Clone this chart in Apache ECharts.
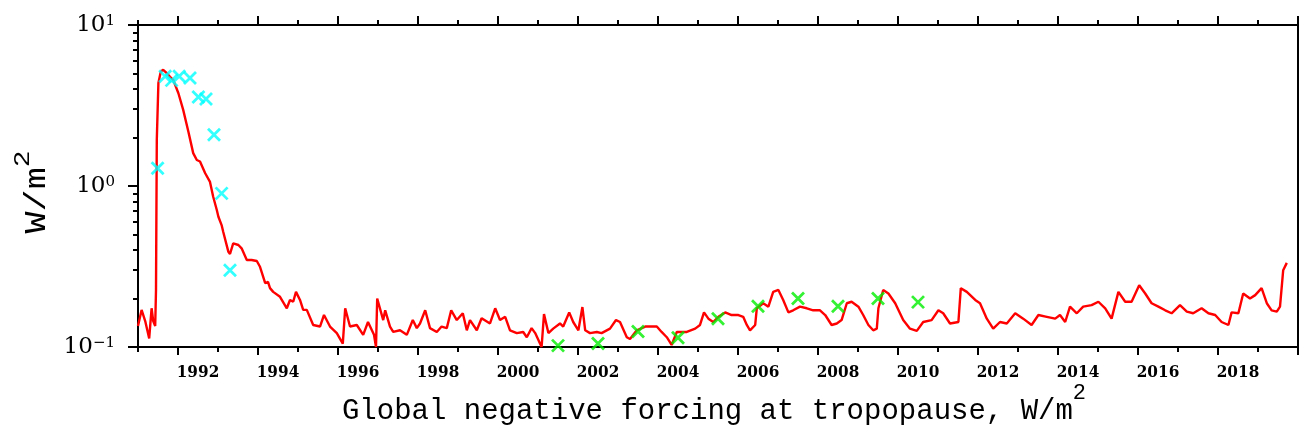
<!DOCTYPE html>
<html><head><meta charset="utf-8">
<script src="https://cdn.jsdelivr.net/npm/echarts@6/dist/echarts.min.js"></script>
<style>html,body{margin:0;padding:0;background:#fff}#c{width:1301px;height:435px}</style>
</head><body><div id="c"></div>
<script>
// ---- data ----
const modelYears = [
1991.00,1991.09,1991.18,1991.28,1991.34,1991.38,1991.43,1991.45,1991.47,1991.51,
1991.57,1991.63,1991.72,1991.80,1991.88,1992.01,1992.13,1992.26,1992.38,1992.47,
1992.55,1992.68,1992.80,1992.88,1992.97,1993.01,1993.09,1993.13,1993.26,1993.30,
1993.38,1993.43,1993.51,1993.59,1993.72,1993.84,1993.97,1994.05,1994.18,1994.25,
1994.30,1994.38,1994.55,1994.72,1994.80,1994.88,1994.95,1995.05,1995.13,1995.22,
1995.38,1995.55,1995.65,1995.80,1995.97,1996.12,1996.18,1996.30,1996.47,1996.63,
1996.75,1996.90,1996.95,1996.98,1997.13,1997.18,1997.30,1997.38,1997.55,1997.72,
1997.87,1997.97,1998.05,1998.18,1998.30,1998.47,1998.59,1998.72,1998.83,1998.97,
1999.12,1999.22,1999.30,1999.47,1999.59,1999.80,1999.93,2000.05,2000.18,2000.30,
2000.47,2000.63,2000.72,2000.84,2000.93,2001.09,2001.15,2001.26,2001.38,2001.55,
2001.63,2001.78,2001.88,2002.01,2002.11,2002.18,2002.30,2002.47,2002.59,2002.80,
2002.95,2003.05,2003.22,2003.30,2003.47,2003.68,2003.97,2004.09,2004.22,2004.34,
2004.47,2004.72,2004.93,2005.05,2005.15,2005.26,2005.38,2005.51,2005.68,2005.84,
2006.01,2006.13,2006.22,2006.30,2006.43,2006.47,2006.63,2006.76,2006.88,2007.01,
2007.13,2007.26,2007.38,2007.55,2007.72,2007.88,2008.05,2008.18,2008.34,2008.47,
2008.59,2008.72,2008.84,2009.01,2009.13,2009.26,2009.38,2009.47,2009.51,2009.63,
2009.76,2009.93,2010.13,2010.30,2010.47,2010.63,2010.84,2011.01,2011.13,2011.30,
2011.51,2011.57,2011.72,2011.93,2012.05,2012.22,2012.38,2012.55,2012.72,2012.93,
2013.13,2013.34,2013.51,2013.72,2013.93,2014.05,2014.18,2014.30,2014.47,2014.63,
2014.84,2015.01,2015.18,2015.34,2015.51,2015.68,2015.84,2016.03,2016.18,2016.34,
2016.51,2016.68,2016.84,2017.05,2017.22,2017.38,2017.59,2017.76,2017.93,2018.09,
2018.26,2018.34,2018.51,2018.63,2018.80,2018.93,2019.09,2019.22,2019.34,2019.47,
2019.55,2019.63,2019.72];
const modelForcing = [
0.135,0.170,0.145,0.113,0.174,0.145,0.135,0.225,1.93,4.37,
5.14,5.27,5.02,4.76,4.56,3.77,2.97,2.17,1.60,1.45,
1.42,1.20,1.06,0.858,0.709,0.644,0.572,0.520,0.390,0.378,
0.440,0.450,0.430,0.410,0.347,0.347,0.342,0.315,0.249,0.254,
0.232,0.220,0.205,0.174,0.196,0.191,0.220,0.196,0.170,0.170,
0.137,0.134,0.158,0.134,0.122,0.105,0.174,0.134,0.137,0.119,
0.143,0.119,0.100,0.200,0.147,0.169,0.134,0.124,0.127,0.119,
0.147,0.131,0.140,0.169,0.131,0.124,0.134,0.131,0.169,0.147,
0.162,0.127,0.147,0.127,0.151,0.140,0.174,0.147,0.154,0.127,
0.122,0.124,0.115,0.131,0.122,0.100,0.160,0.122,0.130,0.140,
0.134,0.164,0.143,0.127,0.177,0.127,0.122,0.124,0.122,0.130,
0.147,0.143,0.115,0.112,0.127,0.134,0.134,0.124,0.115,0.103,
0.124,0.124,0.130,0.137,0.164,0.150,0.143,0.154,0.164,0.158,
0.158,0.154,0.137,0.127,0.137,0.174,0.187,0.178,0.220,0.226,
0.196,0.164,0.169,0.178,0.174,0.169,0.169,0.158,0.137,0.140,
0.147,0.187,0.191,0.178,0.158,0.137,0.127,0.130,0.174,0.226,
0.215,0.187,0.147,0.130,0.126,0.143,0.147,0.169,0.162,0.140,
0.143,0.232,0.220,0.196,0.187,0.150,0.130,0.143,0.140,0.162,
0.150,0.137,0.158,0.154,0.150,0.158,0.143,0.178,0.162,0.178,
0.182,0.191,0.174,0.150,0.220,0.191,0.191,0.242,0.215,0.187,
0.178,0.169,0.162,0.182,0.166,0.162,0.174,0.162,0.158,0.143,
0.137,0.164,0.162,0.215,0.200,0.210,0.232,0.187,0.169,0.166,
0.178,0.300,0.333];
const earlyObsYears = [1991.49,1991.68,1991.84,1992.03,1992.30,1992.51,1992.70,1992.90,1993.09,1993.30];
const earlyObsForcing = [1.29,4.80,4.53,4.80,4.69,3.57,3.47,2.08,0.90,0.30];
const lateObsYears = [2001.5,2002.5,2003.5,2004.5,2005.5,2006.5,2007.5,2008.5,2009.5,2010.5];
const lateObsForcing = [0.102,0.105,0.125,0.114,0.150,0.179,0.200,0.179,0.200,0.190];
const majorYearTicks = [1992,1994,1996,1998,2000,2002,2004,2006,2008,2010,2012,2014,2016,2018,2020];
const minorYearTicks = [1991,1993,1995,1997,1999,2001,2003,2005,2007,2009,2011,2013,2015,2017,2019];
const yearLabels = [1992,1994,1996,1998,2000,2002,2004,2006,2008,2010,2012,2014,2016,2018];
const yMinorTicks = [0.2,0.3,0.4,0.5,0.6,0.7,0.8,0.9,2,3,4,5,6,7,8,9];
const xTitle = 'Global negative forcing at tropopause, W/m';
const yTitle = 'W/m';
const unitPower = '2';

// ---- chart ----
const chart = echarts.init(document.getElementById('c'), null, {renderer: 'canvas'});
const X0 = 1991, X1 = 2020;
const tickStyle = {color: '#000', width: 2};
const noLine = {show: false, onZero: false};
function xAxisCfg(pos, ticks, len, labels) {
  return {
    type: 'value', min: X0, max: X1, position: pos,
    axisLine: noLine, splitLine: {show: false},
    axisTick: {show: true, customValues: ticks, length: len, lineStyle: tickStyle},
    axisLabel: labels ? {
      show: true, customValues: yearLabels.map(v => v + 0.5),
      formatter: v => String(Math.floor(v)), margin: 17,
      fontFamily: '"DejaVu Serif Condensed","DejaVu Serif",serif', fontWeight: 'bold', fontSize: 17, color: '#000'
    } : {show: false}
  };
}
const supStyle = {fontFamily: '"DejaVu Serif",serif', fontSize: 15, lineHeight: 15, color: '#000', verticalAlign: 'top'};
const baseStyle = {fontFamily: '"DejaVu Serif",serif', fontSize: 23, lineHeight: 23, color: '#000', verticalAlign: 'bottom', padding: [3, 0, 0, 0]};
const crossSymbol = 'path://M0,0L10,10M10,0L0,10';
const titleFont = '"Liberation Mono",monospace';

chart.setOption({
  animation: false,
  backgroundColor: '#fff',
  grid: {left: 138, right: 3, top: 25, bottom: 88, show: true, borderColor: '#000', borderWidth: 2, backgroundColor: 'transparent'},
  xAxis: [
    xAxisCfg('bottom', majorYearTicks, 8, true),
    xAxisCfg('bottom', minorYearTicks, 5, false),
    xAxisCfg('top', majorYearTicks, 9, false),
    xAxisCfg('top', minorYearTicks, 5, false)
  ],
  yAxis: [
    {type: 'log', logBase: 10, min: 0.1, max: 10, position: 'left',
     axisLine: noLine, splitLine: {show: false},
     axisTick: {show: true, length: 10, lineStyle: tickStyle},
     axisLabel: {margin: 23, formatter: v => {
        const e = Math.round(Math.log10(v));
        return '{b|10}{s|' + (e < 0 ? '\u2212' + (-e) : String(e)) + '}';
     }, rich: {b: baseStyle, s: supStyle}}},
    {type: 'value', min: -1, max: 1, position: 'left',
     axisLine: noLine, splitLine: {show: false},
     axisTick: {show: true, customValues: yMinorTicks.map(v => Math.log10(v)), length: 5, lineStyle: tickStyle},
     axisLabel: {show: false}}
  ],
  series: [
    {type: 'line', xAxisIndex: 0, yAxisIndex: 0, showSymbol: false, symbol: 'none',
     lineStyle: {color: '#ff0000', width: 2.4}, z: 2,
     data: modelYears.map((y, i) => [y, modelForcing[i]])},
    {type: 'scatter', xAxisIndex: 0, yAxisIndex: 0, symbol: crossSymbol, symbolSize: 12,
     itemStyle: {color: '#00ffff', borderColor: '#00ffff', borderWidth: 2.8}, z: 3,
     data: earlyObsYears.map((y, i) => [y, earlyObsForcing[i]])},
    {type: 'scatter', xAxisIndex: 0, yAxisIndex: 0, symbol: crossSymbol, symbolSize: 12,
     itemStyle: {color: '#00ee00', borderColor: '#00ee00', borderWidth: 2.8}, z: 3,
     data: lateObsYears.map((y, i) => [y, lateObsForcing[i]])}
  ],
  graphic: [
    {type: 'text', x: 714, y: 404, silent: true,
     style: {text: '{a|' + xTitle + '}{s|' + unitPower + '}', align: 'center', verticalAlign: 'middle',
       textAlign: 'center', textVerticalAlign: 'middle',
       rich: {a: {fontFamily: titleFont, fontSize: 29, lineHeight: 43, fill: '#000', verticalAlign: 'bottom'},
              s: {fontFamily: titleFont, fontSize: 22, lineHeight: 22, fill: '#000', verticalAlign: 'top'}}}},
    {type: 'text', x: 32, y: 192, rotation: Math.PI / 2, scaleX: 1.27, silent: true,
     style: {text: '{a|' + yTitle + '}{s|' + unitPower + '}', align: 'center', verticalAlign: 'middle',
       textAlign: 'center', textVerticalAlign: 'middle',
       rich: {a: {fontFamily: titleFont, fontSize: 29, lineHeight: 40, fill: '#000', verticalAlign: 'bottom'},
              s: {fontFamily: titleFont, fontSize: 22, lineHeight: 22, fill: '#000', verticalAlign: 'top'}}}}
  ]
});
</script></body></html>
